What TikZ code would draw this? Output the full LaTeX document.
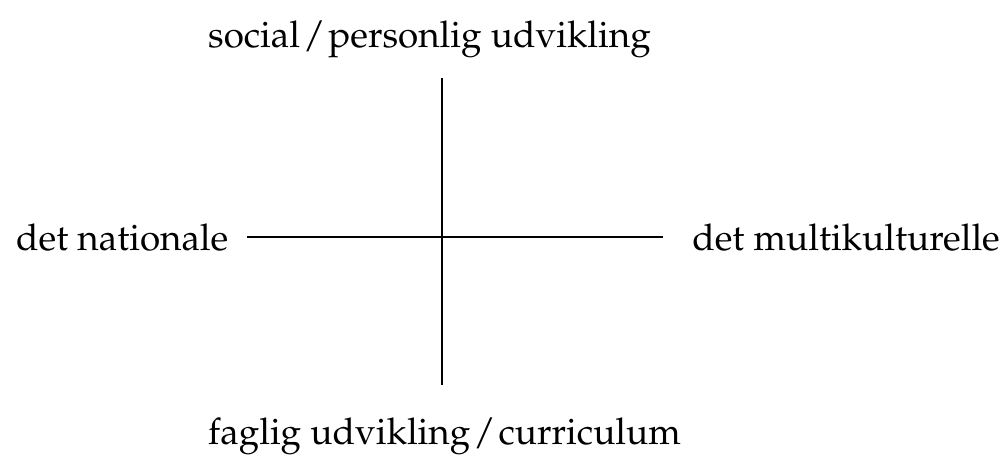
\documentclass[tikz,border=0pt]{standalone}
\usepackage[T1]{fontenc}
\usepackage{mathpazo}
\newcommand{\slsh}{\kern3pt/\kern3pt}
\begin{document}
\begin{tikzpicture}[x=1pt,y=-1pt,
  lbl/.style={inner sep=0pt,font=\fontsize{36.8}{44}\selectfont},
  axis/.style={line width=2pt}]
\useasboundingbox (0,0) rectangle (1002,455);
\node[lbl,anchor=base west] (top) at (208,47) {social\slsh personlig udvikling};
\node[lbl,anchor=base west] (bot) at (208,444) {faglig udvikling\slsh curriculum};
\node[lbl,anchor=base west] (left) at (16,250) {det nationale};
\node[lbl,anchor=base east] (right) at (1000,250) {det multikulturelle};
\coordinate (vt) at (442,78);
\coordinate (vb) at (442,385);
\coordinate (hl) at (247,237);
\coordinate (hr) at (663,237);
\draw[axis] (vt) -- (vb);
\draw[axis] (hl) -- (hr);
\end{tikzpicture}
\end{document}
